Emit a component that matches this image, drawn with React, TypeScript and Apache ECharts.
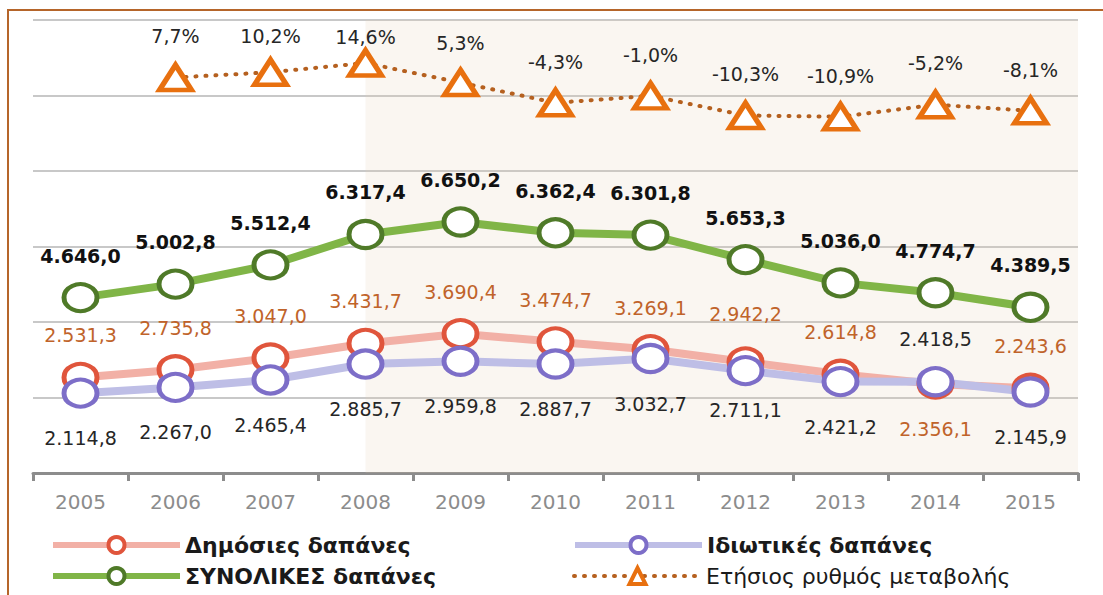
import React, { useEffect, useRef } from 'react';
import * as echarts from 'echarts';

const years = ['2005', '2006', '2007', '2008', '2009', '2010', '2011', '2012', '2013', '2014', '2015'];
const publicSpend = [2531.3, 2735.8, 3047.0, 3431.7, 3690.4, 3474.7, 3269.1, 2942.2, 2614.8, 2356.1, 2243.6];
const privateSpend = [2114.8, 2267.0, 2465.4, 2885.7, 2959.8, 2887.7, 3032.7, 2711.1, 2421.2, 2418.5, 2145.9];
const totalSpend = [4646.0, 5002.8, 5512.4, 6317.4, 6650.2, 6362.4, 6301.8, 5653.3, 5036.0, 4774.7, 4389.5];
const growthRate = [null, 7.7, 10.2, 14.6, 5.3, -4.3, -1.0, -10.3, -10.9, -5.2, -8.1];

const N_PUB = 'Δημόσιες δαπάνες';
const N_PRIV = 'Ιδιωτικές δαπάνες';
const N_TOT = 'ΣΥΝΟΛΙΚΕΣ δαπάνες';
const N_GROW = 'Ετήσιος ρυθμός μεταβολής';

const FONT = 'DejaVu Sans';

const fmtNum = (v: number) => {
  const [i, d] = v.toFixed(1).split('.');
  return i.replace(/\B(?=(\d{3})+(?!\d))/g, '.') + ',' + d;
};
const fmtPct = (v: number) => v.toFixed(1).replace('.', ',') + '%';

export default function App() {
  const ref = useRef<HTMLDivElement>(null);

  useEffect(() => {
    const chart = echarts.init(ref.current as HTMLDivElement, null, { renderer: 'svg' });

    const publicData = publicSpend.map((v, i) => {
      if (years[i] === '2014') return { value: v, label: { position: 'bottom', distance: 20 } };
      if (years[i] === '2012') return { value: v, label: { distance: 23 } };
      return v;
    });
    const privateData = privateSpend.map((v, i) => {
      if (years[i] === '2014') return { value: v, label: { position: 'top', distance: 18 } };
      if (years[i] === '2012') return { value: v, label: { distance: 14 } };
      return v;
    });
    const growthData = growthRate.map((v, i) => {
      if (years[i] === '2008') return { value: v, label: { distance: 2 } };
      if (years[i] === '2007') return { value: v, label: { distance: 12 } };
      if (years[i] === '2009') return { value: v, label: { distance: 15 } };
      return v;
    });

    const legendCommon = {
      padding: 0,
      itemWidth: 127,
      itemHeight: 20,
      selectedMode: false,
      textStyle: { fontFamily: FONT, fontSize: 22, fontWeight: 'bold', color: '#1a1a1a' },
    };
    const legendItem = (name: string, borderColor: string, lineColor: string, lineWidth: number, extra: any = {}) => ({
      name,
      itemStyle: { color: '#ffffff', borderColor, borderWidth: 4 },
      lineStyle: { color: lineColor, width: lineWidth, ...extra },
    });

    const option: any = {
      animation: false,
      backgroundColor: '#ffffff',
      textStyle: { fontFamily: FONT },
      grid: { left: 33, right: 25, top: 20, bottom: 122, containLabel: false },
      xAxis: {
        type: 'category',
        data: years,
        boundaryGap: true,
        axisLine: { show: true, lineStyle: { color: '#8c8c8c', width: 3 } },
        axisTick: { show: true, length: 8, lineStyle: { color: '#8c8c8c', width: 3 } },
        axisLabel: { color: '#8c8c8c', fontSize: 20, fontFamily: FONT, margin: 19 },
        splitLine: { show: false },
      },
      yAxis: [
        {
          type: 'value',
          min: 0,
          max: 12000,
          interval: 2000,
          axisLabel: { show: false },
          axisLine: { show: false },
          axisTick: { show: false },
          splitLine: { show: true, lineStyle: { color: '#c8c8c8', width: 2 } },
        },
        {
          type: 'value',
          min: -180,
          max: 35,
          axisLabel: { show: false },
          axisLine: { show: false },
          axisTick: { show: false },
          splitLine: { show: false },
        },
      ],
      legend: [
        { ...legendCommon, data: [legendItem(N_PUB, '#e0553c', '#f2b0a6', 6)], left: 50, top: 534 },
        { ...legendCommon, data: [legendItem(N_PRIV, '#7d6ec8', '#bebee6', 6)], left: 572, top: 534 },
        { ...legendCommon, data: [legendItem(N_TOT, '#4f7a28', '#80b547', 6)], left: 50, top: 565 },
        {
          ...legendCommon,
          data: [legendItem(N_GROW, '#e8700f', '#b5601f', 4, { type: [1, 9], cap: 'round' })],
          left: 572,
          top: 565,
          textStyle: { ...legendCommon.textStyle, fontWeight: 'normal' },
        },
      ],
      graphic: [
        {
          type: 'rect',
          silent: true,
          z: 100,
          shape: { x: 8, y: 10, width: 1200, height: 700 },
          style: { fill: 'none', stroke: '#b5652a', lineWidth: 2 },
        },
      ],
      series: [
        {
          name: N_PUB,
          type: 'line',
          data: publicData,
          symbol: 'circle',
          symbolSize: [33, 27],
          itemStyle: { color: '#ffffff', borderColor: '#e0553c', borderWidth: 4.5 },
          lineStyle: { color: '#f2b0a6', width: 8 },
          label: {
            show: true,
            position: 'top',
            distance: 17,
            color: '#c0632a',
            fontSize: 19,
            fontFamily: FONT,
            formatter: (p: any) => fmtNum(p.value),
          },
          markArea: {
            silent: true,
            itemStyle: { color: 'rgba(230, 205, 180, 0.18)' },
            data: [[{ xAxis: '2008' }, {}]],
          },
        },
        {
          name: N_PRIV,
          type: 'line',
          data: privateData,
          symbol: 'circle',
          symbolSize: [33, 27],
          itemStyle: { color: '#ffffff', borderColor: '#7d6ec8', borderWidth: 4.5 },
          lineStyle: { color: '#bebee6', width: 8 },
          label: {
            show: true,
            position: 'bottom',
            distance: 20,
            color: '#262626',
            fontSize: 19,
            fontFamily: FONT,
            formatter: (p: any) => fmtNum(p.value),
          },
        },
        {
          name: N_TOT,
          type: 'line',
          data: totalSpend,
          symbol: 'circle',
          symbolSize: [33, 27],
          itemStyle: { color: '#ffffff', borderColor: '#4f7a28', borderWidth: 4.5 },
          lineStyle: { color: '#80b547', width: 8 },
          label: {
            show: true,
            position: 'top',
            distance: 17,
            color: '#111111',
            fontSize: 19,
            fontWeight: 'bold',
            fontFamily: FONT,
            formatter: (p: any) => fmtNum(p.value),
          },
        },
        {
          name: N_GROW,
          type: 'line',
          yAxisIndex: 1,
          data: growthData,
          connectNulls: false,
          symbol: 'triangle',
          symbolSize: [32, 25],
          itemStyle: { color: '#ffffff', borderColor: '#e8700f', borderWidth: 5 },
          lineStyle: { color: '#b5601f', width: 4, type: [1, 9], cap: 'round' },
          label: {
            show: true,
            position: 'top',
            distance: 17,
            color: '#262626',
            fontSize: 19,
            fontFamily: FONT,
            formatter: (p: any) => (p.value == null ? '' : fmtPct(p.value)),
          },
        },
      ],
    };

    chart.setOption(option);
    return () => chart.dispose();
  }, []);

  return (
    <div
      ref={ref}
      style={{ position: 'absolute', left: 0, top: 0, width: 1103, height: 595, background: '#ffffff' }}
    />
  );
}
